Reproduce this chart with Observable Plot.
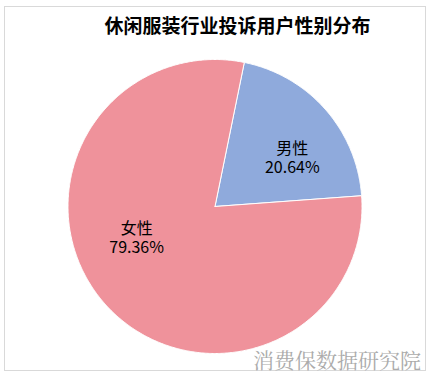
<!DOCTYPE html>
<html>
<head>
<meta charset="utf-8">
<script src="https://cdn.jsdelivr.net/npm/d3@7"></script>
<script src="https://cdn.jsdelivr.net/npm/@observablehq/plot@0.6"></script>
<style>
  html, body { margin: 0; padding: 0; background: #fff; }
  #wrap { position: relative; width: 434px; height: 376px; overflow: hidden; font-family: "Noto Sans CJK SC", sans-serif; }
  #frame { position: absolute; left: 4px; top: 6px; width: 420px; height: 363px; border: 1px solid #d9d9d9; box-sizing: content-box; }
  #title { position: absolute; left: 0; top: 15px; width: 475px; text-align: center; font-size: 19px; line-height: 20px; font-weight: bold; color: #000; }
  #chart { position: absolute; left: 0; top: 0; }
  #mark { position: absolute; left: 253px; top: 347px; font-size: 21px; line-height: 24px; color: #ababab; font-family: "Noto Serif CJK SC", "AR PL UMing CN", serif; white-space: nowrap; }
</style>
</head>
<body>
<div id="wrap">
  <div id="frame"></div>
  <div id="chart"></div>
  <div id="title">休闲服装行业投诉用户性别分布</div>
  <div id="mark">消费保数据研究院</div>
</div>
<script>
const genders = ["男性", "女性"];
const shares = [20.64, 79.36];
const colors = ["#8FAADC", "#EF929B"];

const startDeg = 11.5;
const labelPolar = { "男性": [58, 0.62], "女性": [248, 0.575] };

const total = d3.sum(shares);
const slices = [];
let acc = startDeg;
genders.forEach((g, i) => {
  const a0 = acc, a1 = acc + shares[i] / total * 360;
  acc = a1;
  const pts = [{ g, x: 0, y: 0 }];
  const n = Math.max(2, Math.ceil((a1 - a0) / 0.5));
  for (let k = 0; k <= n; k++) {
    const a = (a0 + (a1 - a0) * k / n) * Math.PI / 180;
    pts.push({ g, x: Math.sin(a), y: Math.cos(a) });
  }
  pts.push({ g, x: 0, y: 0 });
  slices.push({ g, color: colors[i], pts, share: shares[i] });
});

const labels = slices.map(s => {
  const [ang, r] = labelPolar[s.g];
  const a = ang * Math.PI / 180;
  return { x: r * Math.sin(a), y: r * Math.cos(a), name: s.g, pct: s.share.toFixed(2) + "%" };
});

const cx = 214.5, cy = 206, R = 147;
const marks = slices.map(s => Plot.line(s.pts, {
  x: "x", y: "y", fill: s.color, stroke: "#ffffff", strokeWidth: 1, strokeLinejoin: "round"
}));
const textOpts = { x: "x", y: "y", fontSize: 16, fill: "#000",
  fontFamily: "'Noto Sans CJK SC', sans-serif", textAnchor: "middle" };
marks.push(Plot.text(labels, { ...textOpts, text: "name", dy: -9 }));
marks.push(Plot.text(labels, { ...textOpts, text: "pct", dy: 9.5 }));

const chart = Plot.plot({
  width: 434, height: 376,
  margin: 0,
  x: { domain: [-1, 1], range: [cx - R, cx + R], axis: null },
  y: { domain: [-1, 1], range: [cy + R, cy - R], axis: null },
  style: { background: "transparent", overflow: "visible" },
  marks
});
document.getElementById("chart").appendChild(chart);
</script>
</body>
</html>
